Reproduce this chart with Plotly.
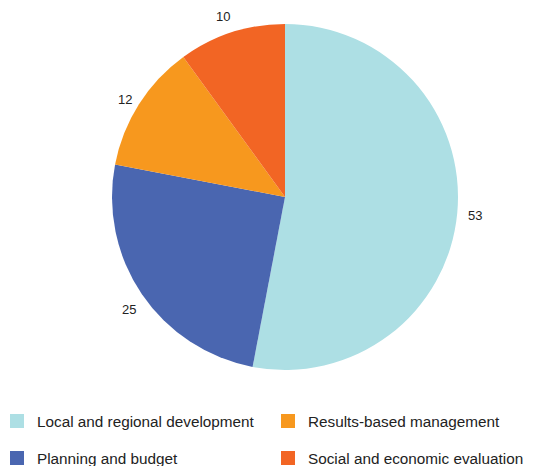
import numpy as np
import plotly.graph_objects as go

categories = ["Local and regional development", "Planning and budget", "Results-based management",
              "Social and economic evaluation"]
values = [53, 25, 12, 10]
colors = ["#ADDFE4", "#4A66B0", "#F7981E", "#F26524"]
# legend grid: (row, column) of each category
legend_cells = {"Local and regional development": (0, 0), "Results-based management": (0, 1),
                "Planning and budget": (1, 0), "Social and economic evaluation": (1, 1)}

W, H = 557, 466
cx, cy, r = 285, 197, 173  # pie centre/radius in px

fig = go.Figure()
fig.add_trace(go.Pie(labels=categories, values=values, sort=False, direction="clockwise", rotation=0,
                     marker={"colors": colors, "line": {"width": 0}}, textinfo="none", hoverinfo="label+value",
                     showlegend=False,
                     domain={"x": [(cx - r) / W, (cx + r) / W], "y": [1 - (cy + r) / H, 1 - (cy - r) / H]}))

# value labels outside each slice, at the slice mid-angle
frac = np.array(values) / sum(values)
mid = (np.cumsum(frac) - frac / 2) * 2 * np.pi
lr = 200
for v, a in zip(values, mid):
    fig.add_annotation(x=(cx + lr * np.sin(a)) / W, y=1 - (cy - lr * np.cos(a)) / H, xref="paper", yref="paper",
                       text=str(v), showarrow=False, font={"size": 13, "color": "#222222"})

# legend: one small legend per entry, laid out as a 2x2 grid
col_x = [-3, 268]
row_y = [421, 458]
legends = {}
for i, (name, color) in enumerate(zip(categories, colors)):
    lg = "legend" if i == 0 else f"legend{i + 1}"
    rw, cl = legend_cells[name]
    fig.add_trace(go.Scatter(x=[None], y=[None], mode="markers", name=name, legend=lg,
                             marker={"symbol": "square", "size": 14, "color": color}))
    legends[lg] = {"x": col_x[cl] / W, "y": 1 - row_y[rw] / H, "xanchor": "left", "yanchor": "middle",
                   "font": {"size": 15.3, "color": "#222222"}, "bgcolor": "rgba(0,0,0,0)"}

fig.update_layout(width=W, height=H, margin={"l": 0, "r": 0, "t": 0, "b": 0, "autoexpand": False},
                  paper_bgcolor="white", plot_bgcolor="white", font={"family": "Liberation Sans, Arial, sans-serif"},
                  xaxis={"visible": False}, yaxis={"visible": False}, **legends)
fig.write_html("out.html", config={"displayModeBar": False}, post_script="document.body.style.margin='0';")
